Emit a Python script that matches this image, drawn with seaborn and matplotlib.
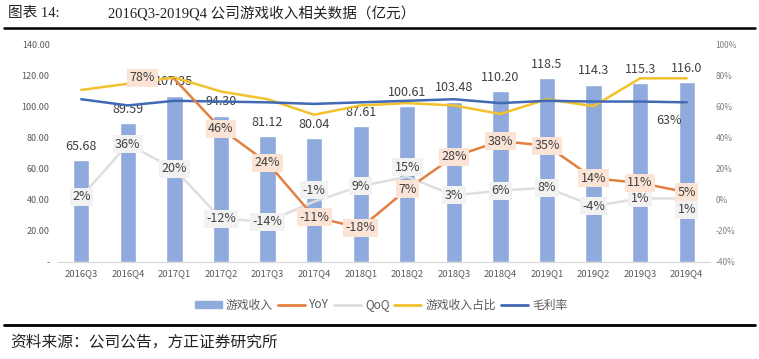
import numpy as np
import pandas as pd
import seaborn as sns
import matplotlib.pyplot as plt
from matplotlib.patches import Patch
from matplotlib.lines import Line2D

# Data
quarters = ['2016Q3', '2016Q4', '2017Q1', '2017Q2', '2017Q3', '2017Q4', '2018Q1',
            '2018Q2', '2018Q3', '2018Q4', '2019Q1', '2019Q2', '2019Q3', '2019Q4']
revenue = [65.68, 89.59, 107.35, 94.30, 81.12, 80.04, 87.61,
           100.61, 103.48, 110.20, 118.5, 114.3, 115.3, 116.0]
revenue_labels = ['65.68', '89.59', '107.35', '94.30', '81.12', '80.04', '87.61',
                  '100.61', '103.48', '110.20', '118.5', '114.3', '115.3', '116.0']
yoy = [np.nan, np.nan, 78, 46, 24, -11, -18, 7, 28, 38, 35, 14, 11, 5]
qoq = [2, 36, 20, -12, -14, -1, 9, 15, 3, 6, 8, -4, 1, 1]
share = [71, 75, 79, 70, 65, 55, 61, 62.5, 61, 55.5, 65, 60.5, 78.5, 78.5]
margin = [65, 61, 64, 63.5, 63, 62, 63, 64, 65, 62.5, 64, 63.5, 63.5, 63]

left_ticks = [0, 20, 40, 60, 80, 100, 120, 140]
right_ticks = [-40, -20, 0, 20, 40, 60, 80, 100]

BAR = '#8FAADC'
ORANGE = '#E2803F'
GRAY = '#DEDEDE'
YELLOW = '#F2C12E'
BLUE = '#4169B4'
TXT = '#404040'

sns.set_style('white')
plt.rcParams['font.family'] = ['Noto Sans CJK SC', 'DejaVu Sans']

df = pd.DataFrame({'quarter': quarters, 'revenue': revenue, 'yoy': yoy,
                   'qoq': qoq, 'share': share, 'margin': margin})
df['pos'] = np.arange(len(df))

fig = plt.figure(figsize=(7.59, 3.59), dpi=100)
ax = fig.add_axes([0.0764, 0.2702, 0.859, 0.6045])

# bars (left axis)
sns.barplot(data=df, x='quarter', y='revenue', color=BAR, saturation=1,
            width=0.35, ax=ax)
ax.set_xlim(-0.5, len(df) - 0.5)
ax.set_ylim(0, 140)
ax.set_yticks(left_ticks)
ax.set_yticklabels(['-' if t == 0 else f'{t:.2f}' for t in left_ticks])
ax.set_xlabel('')
ax.set_ylabel('')
ax.tick_params(axis='y', length=0, labelsize=6.5, labelcolor='#595959', pad=6)
ax.tick_params(axis='x', length=0, labelsize=6.8, labelcolor='#595959', pad=5)
for s in ['left', 'right', 'top']:
    ax.spines[s].set_visible(False)
ax.spines['bottom'].set_color('#D9D9D9')

for i, v in enumerate(df['revenue']):
    ax.annotate(revenue_labels[i], (i, v), xytext=(0, 10), textcoords='offset points',
                ha='center', va='center', fontsize=9, color=TXT)

# lines (right axis)
ax2 = ax.twinx()
ax2.set_ylim(-40, 100)
sns.lineplot(data=df, x='pos', y='qoq', color=GRAY, lw=1.8, ax=ax2)
sns.lineplot(data=df, x='pos', y='share', color=YELLOW, lw=1.8, ax=ax2)
sns.lineplot(data=df, x='pos', y='margin', color=BLUE, lw=1.8, ax=ax2)
sns.lineplot(data=df.dropna(), x='pos', y='yoy', color=ORANGE, lw=1.8, ax=ax2)
ax2.set_xlabel('')
ax2.set_ylabel('')
ax2.set_yticks(right_ticks)
ax2.set_yticklabels([f'{t}%' for t in right_ticks])
ax2.tick_params(axis='y', length=0, labelsize=6, labelcolor='#7F7F7F', pad=4)
for s in ax2.spines.values():
    s.set_visible(False)

# QoQ labels
qoq_off = {5: (0, 8), 7: (0, 7), 13: (0, -8)}
for i, v in enumerate(df['qoq']):
    ax2.annotate(f'{v:.0f}%', (i, v), xytext=qoq_off.get(i, (0, 0)),
                 textcoords='offset points', ha='center', va='center',
                 fontsize=9, color=TXT, zorder=6,
                 bbox=dict(boxstyle='square,pad=0.2', fc='#F2F2F2', ec='none'))

# YoY labels
yoy_off = {2: (-23, 1)}
for i, v in enumerate(df['yoy']):
    if np.isnan(v):
        continue
    ax2.annotate(f'{v:.0f}%', (i, v), xytext=yoy_off.get(i, (0, 0)),
                 textcoords='offset points', ha='center', va='center',
                 fontsize=9, color=TXT, zorder=7,
                 bbox=dict(boxstyle='square,pad=0.2', fc='#FBE3D6', ec='none'))

# gross margin label on the last point
last = len(df) - 1
ax2.annotate(f'{margin[last]:.0f}%', (last, margin[last]), xytext=(-13, -13),
             textcoords='offset points', ha='center', va='center',
             fontsize=9, color=TXT, zorder=6,
             arrowprops=dict(arrowstyle='-', color='#A6A6A6', lw=0.8, shrinkA=3, shrinkB=1))

# legend
handles = [Patch(color=BAR), Line2D([], [], color=ORANGE, lw=2),
           Line2D([], [], color=GRAY, lw=2), Line2D([], [], color=YELLOW, lw=2),
           Line2D([], [], color=BLUE, lw=2)]
labels = ['游戏收入', 'YoY', 'QoQ', '游戏收入占比', '毛利率']
fig.legend(handles, labels, loc='center', bbox_to_anchor=(0.502, 1 - 305 / 359),
           ncol=5, frameon=False, fontsize=8.5, handlelength=2.3,
           handleheight=0.6, columnspacing=0.4, handletextpad=0.35,
           labelcolor='#595959')

# header and footer
hdr_font = ['Liberation Serif', 'Noto Sans CJK SC']
fig.text(8 / 759, 1 - 13 / 359, '图表 14:', fontsize=10.5, family=hdr_font,
         va='center', ha='left', color='#222222')
fig.text(108 / 759, 1 - 13 / 359, '2016Q3-2019Q4 公司游戏收入相关数据（亿元）',
         fontsize=10.5, family=hdr_font, va='center', ha='left', color='#222222')
fig.add_artist(Line2D([0.005, 0.995], [1 - 28 / 359] * 2, color='black', lw=1.8,
                      transform=fig.transFigure))
fig.add_artist(Line2D([0.005, 0.995], [1 - 325 / 359] * 2, color='black', lw=2.0,
                      transform=fig.transFigure))
fig.text(10 / 759, 1 - 342 / 359, '资料来源：公司公告，方正证券研究所', fontsize=11.3,
         style='italic', va='center', ha='left', color='#222222')

fig.savefig('out.png', dpi=100)
